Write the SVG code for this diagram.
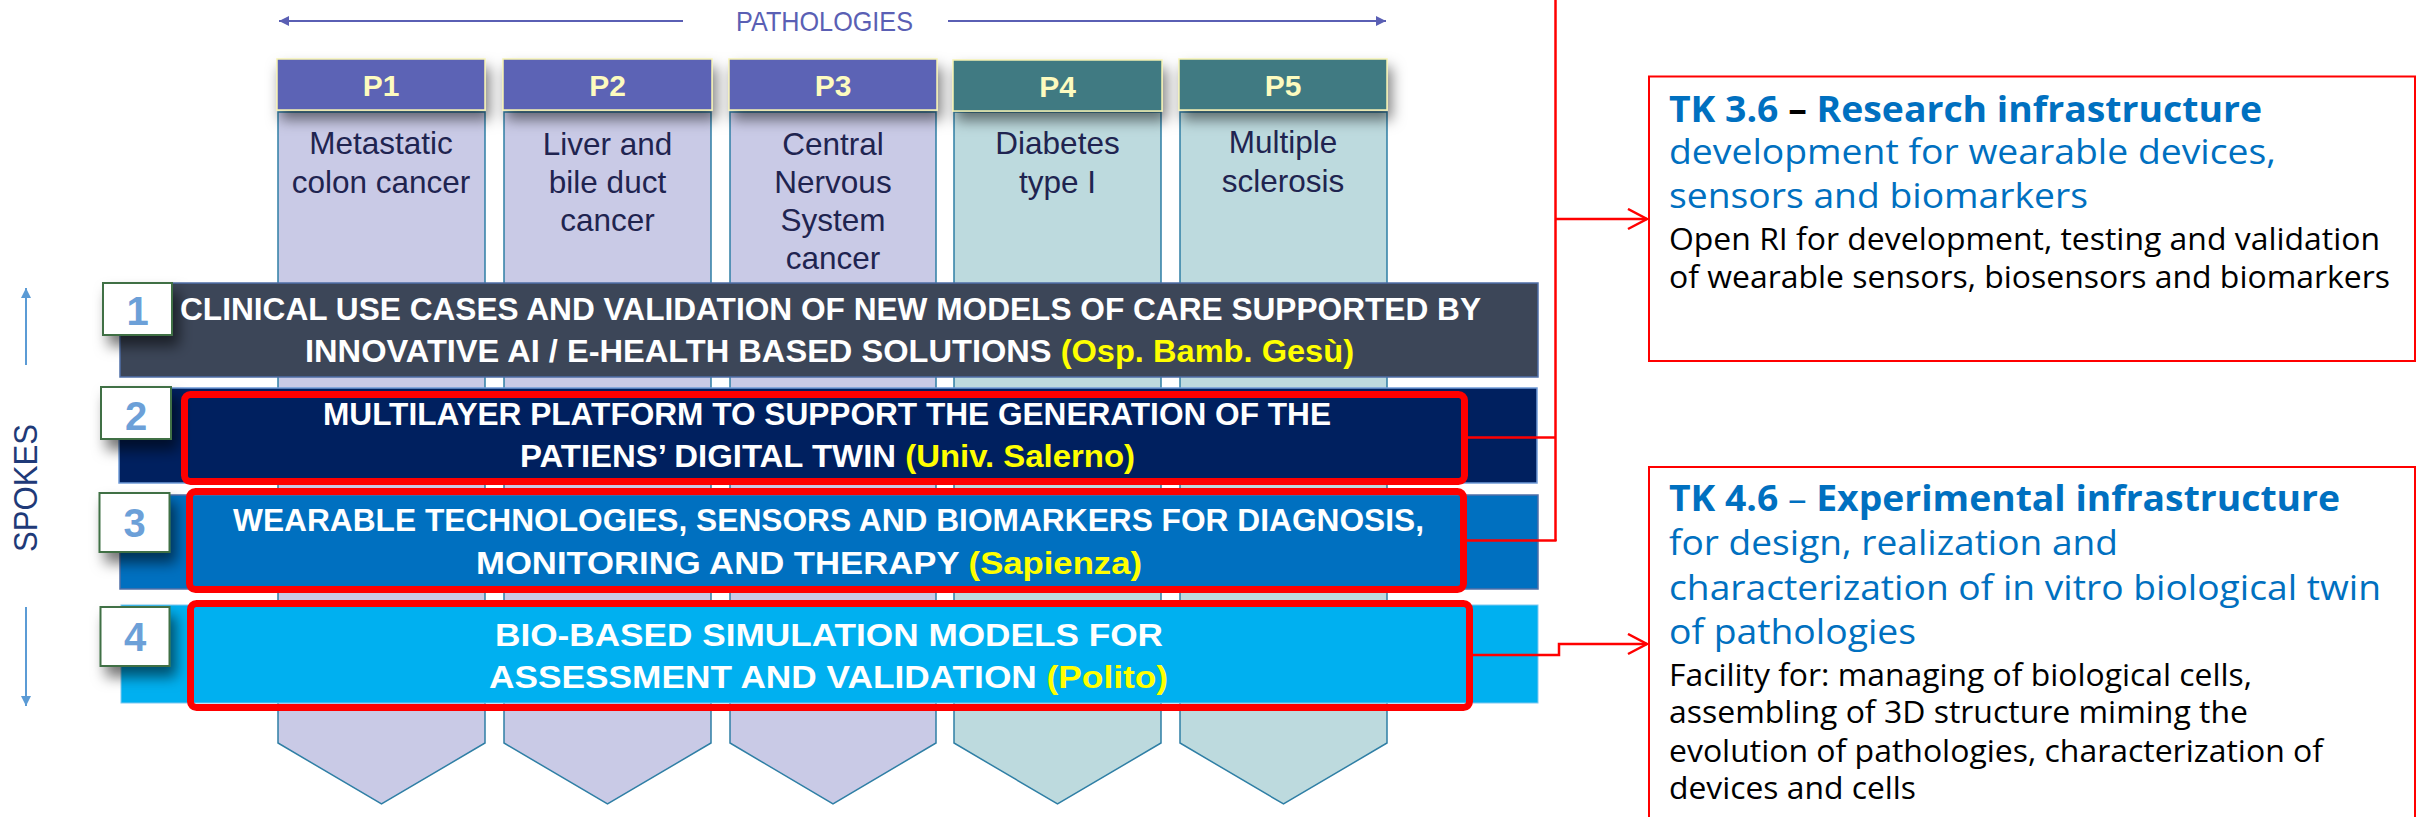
<svg xmlns="http://www.w3.org/2000/svg" width="2417" height="817" viewBox="0 0 2417 817">
<defs>
<style>
.hdrA{fill:#5b63b5;stroke:#f6f2b2;stroke-width:1.5}
.hdrB{fill:#3f7a82;stroke:#f6f2b2;stroke-width:1.5}
.bodyA{fill:#c9cae6;stroke:#2f7fa5;stroke-width:1.5}
.bodyB{fill:#bddade;stroke:#2f7fa5;stroke-width:1.5}
.htxt{font-family:"Liberation Sans",Arial,sans-serif;font-weight:bold;font-size:30px;fill:#fdfbbf;text-anchor:middle}
.ctxt{font-family:"Liberation Sans",Arial,sans-serif;font-size:31.5px;fill:#1f2450;text-anchor:middle}
.rtxt{font-family:"Liberation Sans",Arial,sans-serif;font-weight:bold;font-size:31.5px;fill:#ffffff}
.yel{fill:#ffff00}
.nbox{fill:#ffffff;stroke:#3f7045;stroke-width:2}
.ntxt{font-family:"Liberation Sans",Arial,sans-serif;font-weight:bold;font-size:40px;fill:#6ca0d8;text-anchor:middle}
.hl{fill:none;stroke:#ff0000;stroke-width:7}
.con{fill:none;stroke:#ff0000;stroke-width:2.5}
.tk{fill:#ffffff;stroke:#ff0000;stroke-width:2}
.tb{font-family:"Open Sans","Liberation Sans",sans-serif;font-size:35.5px;fill:#0070c0}
.tbb{font-weight:bold}
.tk2{font-family:"Open Sans","Liberation Sans",sans-serif;font-size:30.5px;fill:#000000}
.lbl{font-family:"Liberation Sans",Arial,sans-serif}
</style>
<filter id="sh" x="-20%" y="-30%" width="150%" height="190%">
<feDropShadow dx="4" dy="9" stdDeviation="7" flood-color="#000" flood-opacity="0.5"/>
</filter>
<filter id="nsh" x="-40%" y="-40%" width="200%" height="220%">
<feDropShadow dx="6" dy="10" stdDeviation="7" flood-color="#000" flood-opacity="0.55"/>
</filter>
<marker id="arrR" markerUnits="userSpaceOnUse" markerWidth="24" markerHeight="24" viewBox="0 0 24 24" refX="20" refY="11" orient="auto">
<path d="M1,1 L20,11 L1,21" fill="none" stroke="#ff0000" stroke-width="2.5"/>
</marker>
<marker id="arrP" markerUnits="userSpaceOnUse" markerWidth="12" markerHeight="12" viewBox="0 0 12 12" refX="10" refY="6" orient="auto">
<path d="M0,1 L10,6 L0,11 Z" fill="#5a5fb4"/>
</marker>
<marker id="arrS" markerUnits="userSpaceOnUse" markerWidth="12" markerHeight="12" viewBox="0 0 12 12" refX="10" refY="6" orient="auto">
<path d="M0,1 L10,6 L0,11 Z" fill="#5b9bd5"/>
</marker>
</defs>
<rect width="2417" height="817" fill="#ffffff"/>

<g id="pathologies-axis">
<line x1="683" y1="21" x2="279" y2="21" stroke="#5a5fb4" stroke-width="2" marker-end="url(#arrP)"/>
<line x1="948" y1="21" x2="1386" y2="21" stroke="#5a5fb4" stroke-width="2" marker-end="url(#arrP)"/>
<text class="lbl" x="736" y="31" font-size="28" fill="#5a5fb4" textLength="177" lengthAdjust="spacingAndGlyphs">PATHOLOGIES</text>
</g>

<g id="spokes-axis">
<line x1="26" y1="365" x2="26" y2="288" stroke="#5b9bd5" stroke-width="2" marker-end="url(#arrS)"/>
<line x1="26" y1="607" x2="26" y2="706" stroke="#5b9bd5" stroke-width="2" marker-end="url(#arrS)"/>
<text class="lbl" transform="translate(37,552) rotate(-90)" x="0" y="0" font-size="33" fill="#1f3a78" textLength="128" lengthAdjust="spacingAndGlyphs">SPOKES</text>
</g>

<g id="col-bodies">
<path id="b1" class="bodyA" d="M278,112 H485 V743 L381.5,804 L278,743 Z"/>
<path id="b2" class="bodyA" d="M504,112 H711 V743 L607.5,804 L504,743 Z"/>
<path id="b3" class="bodyA" d="M730,112 H936 V743 L833,804 L730,743 Z"/>
<path id="b4" class="bodyB" d="M954,112 H1161 V743 L1057.5,804 L954,743 Z"/>
<path id="b5" class="bodyB" d="M1180,112 H1387 V743 L1283.5,804 L1180,743 Z"/>
</g>

<g id="col-headers" filter="url(#sh)">
<rect class="hdrA" x="277" y="59" width="208" height="51"/>
<rect class="hdrA" x="503" y="59" width="209" height="51"/>
<rect class="hdrA" x="729" y="59" width="208" height="51"/>
<rect class="hdrB" x="953" y="60" width="209" height="51"/>
<rect class="hdrB" x="1179" y="59" width="208" height="51"/>
</g>

<g id="P1">
<text class="htxt" x="381" y="96">P1</text>
<text class="ctxt" x="381" y="154">Metastatic</text>
<text class="ctxt" x="381" y="192.5">colon cancer</text>
</g>
<g id="P2">
<text class="htxt" x="607.5" y="96">P2</text>
<text class="ctxt" x="607.5" y="155">Liver and</text>
<text class="ctxt" x="607.5" y="193">bile duct</text>
<text class="ctxt" x="607.5" y="231">cancer</text>
</g>
<g id="P3">
<text class="htxt" x="833" y="96">P3</text>
<text class="ctxt" x="833" y="155">Central</text>
<text class="ctxt" x="833" y="193">Nervous</text>
<text class="ctxt" x="833" y="231">System</text>
<text class="ctxt" x="833" y="269">cancer</text>
</g>
<g id="P4">
<text class="htxt" x="1057.5" y="97">P4</text>
<text class="ctxt" x="1057.5" y="154">Diabetes</text>
<text class="ctxt" x="1057.5" y="192.5">type I</text>
</g>
<g id="P5">
<text class="htxt" x="1283" y="96">P5</text>
<text class="ctxt" x="1283" y="153">Multiple</text>
<text class="ctxt" x="1283" y="192">sclerosis</text>
</g>

<g id="spoke1">
<rect x="120" y="283" width="1418" height="94" fill="#3c4658" stroke="#4f6fa8" stroke-width="1.5"/>
<rect class="nbox" x="103" y="283" width="69" height="52" filter="url(#nsh)"/>
<text class="ntxt" x="137.5" y="325">1</text>
<text class="rtxt" x="180" y="320" textLength="1301" lengthAdjust="spacingAndGlyphs">CLINICAL USE CASES AND VALIDATION OF NEW MODELS OF CARE SUPPORTED BY</text>
<text class="rtxt" x="305" y="362" textLength="1049" lengthAdjust="spacingAndGlyphs">INNOVATIVE AI / E-HEALTH BASED SOLUTIONS <tspan class="yel">(Osp. Bamb. Gesù)</tspan></text>
</g>

<g id="spoke2">
<rect x="119" y="388" width="1418" height="95" fill="#00205f" stroke="#6f9bd8" stroke-width="1.5"/>
<rect class="nbox" x="101" y="387" width="70" height="52" filter="url(#nsh)"/>
<text class="ntxt" x="136" y="430">2</text>
<rect class="hl" x="184.5" y="394.5" width="1280" height="87" rx="6"/>
<text class="rtxt" x="323" y="425" textLength="1008" lengthAdjust="spacingAndGlyphs">MULTILAYER PLATFORM TO SUPPORT THE GENERATION OF THE</text>
<text class="rtxt" x="520" y="467" textLength="615" lengthAdjust="spacingAndGlyphs">PATIENS’ DIGITAL TWIN <tspan class="yel">(Univ. Salerno)</tspan></text>
</g>

<g id="spoke3">
<rect x="120" y="495" width="1418" height="94" fill="#0070c0" stroke="#4f6fa8" stroke-width="1.5"/>
<rect class="nbox" x="99.5" y="493" width="70" height="59" filter="url(#nsh)"/>
<text class="ntxt" x="134.5" y="537">3</text>
<rect class="hl" x="189.5" y="491.5" width="1274" height="98" rx="6"/>
<text class="rtxt" x="233" y="531" textLength="1191" lengthAdjust="spacingAndGlyphs">WEARABLE TECHNOLOGIES, SENSORS AND BIOMARKERS FOR DIAGNOSIS,</text>
<text class="rtxt" x="476" y="574" textLength="666" lengthAdjust="spacingAndGlyphs">MONITORING AND THERAPY <tspan class="yel">(Sapienza)</tspan></text>
</g>

<g id="spoke4">
<rect x="121" y="605" width="1417" height="98" fill="#00b0f0" stroke="#7fc8f0" stroke-width="1"/>
<rect class="nbox" x="100.5" y="607" width="69" height="59" filter="url(#nsh)"/>
<text class="ntxt" x="135" y="651">4</text>
<rect class="hl" x="190.5" y="603.5" width="1279" height="104" rx="6"/>
<text class="rtxt" x="495" y="646" textLength="668" lengthAdjust="spacingAndGlyphs">BIO-BASED SIMULATION MODELS FOR</text>
<text class="rtxt" x="489" y="688" textLength="679" lengthAdjust="spacingAndGlyphs">ASSESSMENT AND VALIDATION <tspan class="yel">(Polito)</tspan></text>
</g>

<g id="connectors">
<path class="con" d="M1555.5,0 V541"/>
<path class="con" d="M1468,437.5 H1555.5"/>
<path class="con" d="M1467,540.5 H1556.5"/>
<path class="con" d="M1555.5,219 H1647" marker-end="url(#arrR)"/>
<path class="con" d="M1473,655 H1559 V644 H1647" marker-end="url(#arrR)"/>
</g>

<g id="tk36">
<rect class="tk" x="1649" y="76.5" width="766" height="284.5"/>
<text class="tb tbb" x="1669" y="122" textLength="593" lengthAdjust="spacingAndGlyphs">TK 3.6<tspan fill="#000000"> – </tspan>Research infrastructure</text>
<text class="tb" x="1669" y="164" textLength="607" lengthAdjust="spacingAndGlyphs">development for wearable devices,</text>
<text class="tb" x="1669" y="208" textLength="419" lengthAdjust="spacingAndGlyphs">sensors and biomarkers</text>
<text class="tk2" x="1669" y="250" textLength="711" lengthAdjust="spacingAndGlyphs">Open RI for development, testing and validation</text>
<text class="tk2" x="1669" y="288" textLength="721" lengthAdjust="spacingAndGlyphs">of wearable sensors, biosensors and biomarkers</text>
</g>

<g id="tk46">
<rect class="tk" x="1649" y="467" width="766" height="370"/>
<text class="tb" x="1669" y="511" textLength="671" lengthAdjust="spacingAndGlyphs"><tspan class="tbb">TK 4.6</tspan> – <tspan class="tbb">Experimental infrastructure</tspan></text>
<text class="tb" x="1669" y="555" textLength="449" lengthAdjust="spacingAndGlyphs">for design, realization and</text>
<text class="tb" x="1669" y="600" textLength="712" lengthAdjust="spacingAndGlyphs">characterization of in vitro biological twin</text>
<text class="tb" x="1669" y="644" textLength="247" lengthAdjust="spacingAndGlyphs">of pathologies</text>
<text class="tk2" x="1669" y="686" textLength="583" lengthAdjust="spacingAndGlyphs">Facility for: managing of biological cells,</text>
<text class="tk2" x="1669" y="723" textLength="579" lengthAdjust="spacingAndGlyphs">assembling of 3D structure miming the</text>
<text class="tk2" x="1669" y="762" textLength="654" lengthAdjust="spacingAndGlyphs">evolution of pathologies, characterization of</text>
<text class="tk2" x="1669" y="799" textLength="247" lengthAdjust="spacingAndGlyphs">devices and cells</text>
</g>
</svg>
